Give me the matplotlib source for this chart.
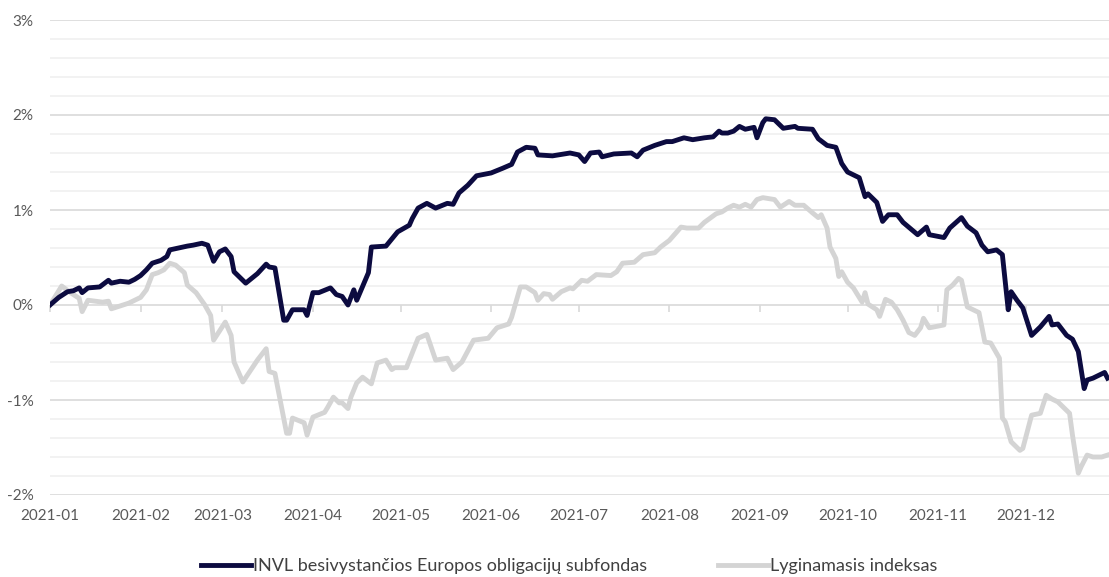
import pandas as pd
import matplotlib.pyplot as plt

# duomenys nuskaityti nuo paveikslo: dienos nuo 2021-01-01 ir grąža procentais
fund_days = [0, 3, 6, 8, 10, 11, 13, 17, 20, 21, 24, 27, 29, 31, 33, 35, 38, 40, 41, 44,
             47, 49, 52, 54, 56, 58, 60, 62, 63, 67, 71, 74, 75, 77, 80, 81, 83, 87, 88, 90,
             92, 96, 98, 100, 102, 104, 105, 109, 110, 115, 119, 123, 124, 126, 129, 132, 136, 138, 140, 143,
             146, 151, 155, 158, 160, 163, 166, 167, 172, 178, 181, 183, 185, 188, 189, 193, 199, 201, 203, 207,
             211, 213, 217, 220, 224, 227, 229, 230, 232, 234, 236, 238, 241, 242, 244, 245, 248, 251, 255, 256,
             261, 263, 266, 269, 271, 273, 277, 279, 280, 283, 285, 287, 290, 292, 297, 300, 301, 306, 308, 312,
             314, 317, 319, 321, 324, 326, 328, 329, 331, 333, 336, 339, 342, 343, 345, 348, 350, 352, 354, 355,
             357, 361, 362]
fund_ret = [0.0, 0.08, 0.14, 0.15, 0.18, 0.13, 0.18, 0.19, 0.26, 0.23, 0.25, 0.24, 0.27, 0.31, 0.37, 0.44, 0.47, 0.51, 0.58, 0.60,
            0.62, 0.63, 0.65, 0.63, 0.46, 0.56, 0.59, 0.51, 0.35, 0.23, 0.33, 0.43, 0.40, 0.39, -0.16, -0.16, -0.05, -0.05, -0.11, 0.13,
            0.13, 0.18, 0.11, 0.09, 0.0, 0.16, 0.05, 0.34, 0.61, 0.62, 0.77, 0.84, 0.91, 1.02, 1.07, 1.02, 1.07, 1.06, 1.18, 1.26,
            1.36, 1.39, 1.44, 1.48, 1.61, 1.66, 1.65, 1.58, 1.57, 1.60, 1.58, 1.51, 1.60, 1.61, 1.56, 1.59, 1.60, 1.56, 1.63, 1.68,
            1.72, 1.72, 1.76, 1.74, 1.76, 1.77, 1.83, 1.81, 1.81, 1.83, 1.88, 1.85, 1.87, 1.76, 1.92, 1.96, 1.95, 1.86, 1.88, 1.86,
            1.85, 1.75, 1.68, 1.66, 1.49, 1.40, 1.34, 1.14, 1.17, 1.08, 0.88, 0.95, 0.95, 0.87, 0.74, 0.82, 0.74, 0.71, 0.81, 0.92,
            0.83, 0.76, 0.63, 0.56, 0.58, 0.53, -0.05, 0.14, 0.05, -0.03, -0.32, -0.23, -0.12, -0.21, -0.20, -0.32, -0.36, -0.49, -0.88, -0.79,
            -0.77, -0.71, -0.77]

index_days = [0, 4, 7, 10, 11, 13, 18, 20, 21, 25, 27, 31, 33, 35, 37, 39, 41, 43, 46, 47,
              50, 53, 55, 56, 60, 62, 63, 66, 71, 74, 75, 77, 81, 82, 83, 87, 88, 90, 94, 95,
              97, 99, 100, 102, 103, 105, 107, 110, 112, 115, 117, 118, 122, 126, 129, 132, 136, 138, 141, 145,
              150, 153, 157, 158, 161, 163, 166, 167, 169, 171, 172, 175, 178, 179, 182, 184, 187, 192, 194, 196,
              200, 203, 207, 209, 212, 216, 218, 222, 224, 228, 230, 232, 234, 236, 238, 240, 242, 244, 248, 250,
              253, 255, 258, 261, 263, 264, 266, 267, 269, 270, 271, 273, 275, 278, 279, 280, 283, 284, 286, 288,
              290, 292, 294, 296, 298, 299, 301, 306, 307, 309, 311, 312, 314, 318, 320, 322, 325, 326, 327, 329,
              332, 333, 336, 339, 341, 343, 345, 349, 350, 352, 353, 355, 357, 360, 362]
index_ret = [0.0, 0.20, 0.13, 0.07, -0.07, 0.05, 0.03, 0.04, -0.04, 0.0, 0.02, 0.08, 0.16, 0.32, 0.34, 0.37, 0.44, 0.42, 0.34, 0.21,
             0.13, 0.0, -0.11, -0.37, -0.18, -0.32, -0.60, -0.81, -0.58, -0.46, -0.70, -0.72, -1.35, -1.35, -1.19, -1.24, -1.37, -1.18, -1.13, -1.08,
             -0.97, -1.03, -1.03, -1.09, -0.97, -0.82, -0.76, -0.83, -0.61, -0.58, -0.68, -0.66, -0.66, -0.35, -0.31, -0.58, -0.56, -0.68, -0.60, -0.37,
             -0.35, -0.24, -0.20, -0.13, 0.19, 0.19, 0.13, 0.05, 0.12, 0.11, 0.06, 0.14, 0.18, 0.17, 0.26, 0.25, 0.32, 0.31, 0.35, 0.44,
             0.45, 0.53, 0.55, 0.61, 0.68, 0.82, 0.81, 0.81, 0.87, 0.96, 0.98, 1.02, 1.05, 1.03, 1.06, 1.03, 1.11, 1.13, 1.11, 1.03,
             1.09, 1.05, 1.05, 0.97, 0.92, 0.95, 0.81, 0.61, 0.49, 0.30, 0.35, 0.24, 0.18, 0.03, 0.13, 0.01, -0.05, -0.12, 0.06, 0.03,
             -0.05, -0.16, -0.29, -0.32, -0.24, -0.14, -0.24, -0.21, 0.16, 0.21, 0.28, 0.26, -0.02, -0.08, -0.39, -0.40, -0.56, -1.19, -1.23, -1.44,
             -1.53, -1.51, -1.16, -1.14, -0.95, -0.99, -1.02, -1.14, -1.37, -1.77, -1.70, -1.58, -1.60, -1.60, -1.58]

series_names = ['INVL besivystančios Europos obligacijų subfondas', 'Lyginamasis indeksas']
start = pd.Timestamp('2021-01-01')
fund_dates = start + pd.to_timedelta(fund_days, unit='D')
index_dates = start + pd.to_timedelta(index_days, unit='D')
months = pd.date_range('2021-01-01', '2021-12-01', freq='MS')

plt.rcParams['font.family'] = ['Lato', 'DejaVu Sans']

fig = plt.figure(figsize=(11.09, 5.77), dpi=100)
ax = fig.add_axes([50 / 1109, 1 - 495 / 577, 1 - 50 / 1109, 475 / 577])

ax.set_ylim(-2, 3)
ax.set_xlim(start, start + pd.Timedelta(days=362.5))

# tinklelis
for v in [-2 + 0.2 * i for i in range(26)]:
    major = abs(v - round(v)) < 1e-6
    ax.axhline(v, color='#d9d9d9' if major else '#f0f0f0', lw=1.2, zorder=0)

ax.plot(index_dates, index_ret, color='#d4d4d4', lw=3.5, label=series_names[1], zorder=2)
ax.plot(fund_dates, fund_ret, color='#0c0b40', lw=3.5, label=series_names[0], zorder=3)

for s in ax.spines.values():
    s.set_visible(False)

ax.set_yticks(range(-2, 4))
ax.set_yticklabels([f'{v}%' for v in range(-2, 4)])
ax.set_xticks(months)
ax.set_xticklabels([m.strftime('%Y-%m') for m in months])
ax.tick_params(axis='both', length=0, labelsize=11, labelcolor='#595959')
ax.tick_params(axis='y', pad=12)
ax.tick_params(axis='x', pad=10)

# mažos žymos ant 0% linijos
sec = ax.secondary_xaxis(0.4)
sec.set_xticks(months)
sec.set_xticklabels([])
sec.tick_params(length=5, color='#d9d9d9', width=1.2, direction='out')
sec.spines['bottom'].set_visible(False)

handles, labels = ax.get_legend_handles_labels()
fig.legend(handles[::-1], labels[::-1], loc='center', bbox_to_anchor=(0.513, 0.019),
           ncol=2, frameon=False, fontsize=13, labelcolor='#404040',
           handlelength=2.8, handletextpad=0.1, columnspacing=3.9)

fig.savefig('out.png', dpi=100)
